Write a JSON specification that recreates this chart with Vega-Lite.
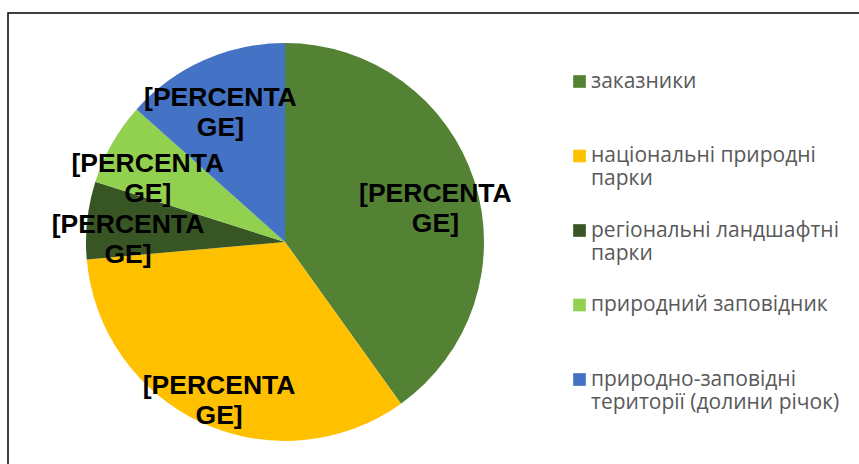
{
  "$schema": "https://vega.github.io/schema/vega-lite/v6.json",
  "width": 853,
  "height": 453,
  "autosize": "none",
  "padding": {"left": 8, "top": 13, "right": -2, "bottom": -2},
  "background": "white",
  "view": {"stroke": "#000000", "strokeWidth": 1.5, "fill": null},
  "config": {"view": {"stroke": "#000000", "strokeWidth": 1.5}, "style": {"cell": {"stroke": "#000000", "strokeWidth": 1.5}}},
  "data": {
    "values": [
      {"n": 1, "category": "заказники", "share": 40.1},
      {"n": 2, "category": "національні природні парки", "share": 33.5},
      {"n": 3, "category": "регіональні ландшафтні парки", "share": 6.3},
      {"n": 4, "category": " природний заповідник", "share": 6.7},
      {"n": 5, "category": "природно-заповідні території (долини річок)", "share": 13.4}
    ]
  },
  "encoding": {
    "theta": {"field": "share", "type": "quantitative", "stack": true},
    "order": {"field": "n", "type": "quantitative"}
  },
  "layer": [
    {
      "mark": {"type": "arc", "outerRadius": 199, "x": 277, "y": 229},
      "encoding": {
        "color": {
          "field": "category",
          "type": "nominal",
          "scale": {
            "domain": ["заказники", "національні природні парки", "регіональні ландшафтні парки", " природний заповідник", "природно-заповідні території (долини річок)"],
            "range": ["#548235", "#FFC000", "#375623", "#92D050", "#4472C4"]
          },
          "legend": {
            "orient": "none",
            "legendX": 561,
            "legendY": 58,
            "title": null,
            "symbolType": "square",
            "symbolSize": 160,
            "symbolStrokeWidth": 0,
            "labelFont": "Open Sans",
            "labelFontSize": 21,
            "labelColor": "#595959",
            "labelLineHeight": 27,
            "labelBaseline": "middle",
            "labelOffset": 1,
            "labelLimit": 320,
            "rowPadding": 29.5,
            "labelExpr": "datum.label == 'національні природні парки' ? ['національні природні', 'парки'] : datum.label == 'регіональні ландшафтні парки' ? ['регіональні ландшафтні', 'парки'] : datum.label == 'природно-заповідні території (долини річок)' ? ['природно-заповідні', 'території (долини річок)'] : [replace(datum.label, ' ', '\u00a0'), '\u00a0']"
          }
        }
      }
    },
    {
      "mark": {
        "type": "text",
        "radius": 158,
        "x": 277,
        "y": 229,
        "font": "Liberation Sans",
        "fontWeight": "bold",
        "fontSize": 26.5,
        "lineHeight": 30,
        "align": "center",
        "baseline": "middle"
      },
      "encoding": {
        "text": {"value": ["[PERCENTA", "GE]"]},
        "color": {"value": "#000000"}
      }
    }
  ]
}
